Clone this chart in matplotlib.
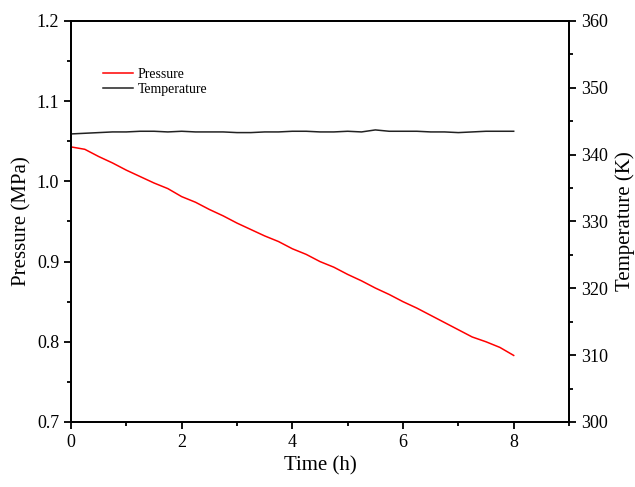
import matplotlib
matplotlib.use("Agg")
import matplotlib.pyplot as plt
from matplotlib.ticker import MultipleLocator

plt.rcParams['font.family'] = ['Liberation Serif', 'DejaVu Serif']

time_h = [0.0, 0.25, 0.5, 0.75, 1.0, 1.25, 1.5, 1.75, 2.0, 2.25, 2.5, 2.75, 3.0, 3.25, 3.5, 3.75,
          4.0, 4.25, 4.5, 4.75, 5.0, 5.25, 5.5, 5.75, 6.0, 6.25, 6.5, 6.75, 7.0, 7.25, 7.5, 7.75, 8.0]
pressure_mpa = [1.043, 1.040, 1.031, 1.023, 1.014, 1.006, 0.998, 0.991, 0.981, 0.974, 0.965, 0.957,
                0.948, 0.940, 0.932, 0.925, 0.916, 0.909, 0.900, 0.893, 0.884, 0.876, 0.867, 0.859,
                0.850, 0.842, 0.833, 0.824, 0.815, 0.806, 0.800, 0.793, 0.783]
temperature_k = [343.1, 343.2, 343.3, 343.4, 343.4, 343.5, 343.5, 343.4, 343.5, 343.4, 343.4, 343.4,
                 343.3, 343.3, 343.4, 343.4, 343.5, 343.5, 343.4, 343.4, 343.5, 343.4, 343.7, 343.5,
                 343.5, 343.5, 343.4, 343.4, 343.3, 343.4, 343.5, 343.5, 343.5]

fig = plt.figure(figsize=(6.35, 4.87), dpi=100)
ax = fig.add_axes([0.1118, 0.1335, 0.7843, 0.8234])
ax2 = ax.twinx()

l1, = ax.plot(time_h, pressure_mpa, color='#ff0000', lw=1.1, label='Pressure')
l2, = ax2.plot(time_h, temperature_k, color='#222222', lw=1.1, label='Temperature')

ax.set_xlim(0, 9)
ax.set_ylim(0.7, 1.2)
ax2.set_ylim(300, 360)
ax.xaxis.set_major_locator(MultipleLocator(2))
ax.xaxis.set_minor_locator(MultipleLocator(1))
ax.yaxis.set_major_locator(MultipleLocator(0.1))
ax.yaxis.set_minor_locator(MultipleLocator(0.05))
ax2.yaxis.set_major_locator(MultipleLocator(10))
ax2.yaxis.set_minor_locator(MultipleLocator(5))
ax.yaxis.set_major_formatter(matplotlib.ticker.FormatStrFormatter('%.1f'))

for a in (ax, ax2):
    for s in a.spines.values():
        s.set_linewidth(1.3)
    a.tick_params(which='major', length=5, width=1.3, labelsize=13, direction='out')
    a.tick_params(which='minor', length=3, width=1.3, direction='out')

ax.set_xlabel('Time (h)', fontsize=15)
ax.set_ylabel('Pressure (MPa)', fontsize=15)
ax2.set_ylabel('Temperature (K)', fontsize=15, labelpad=5)

ax.legend([l1, l2], ['Pressure', 'Temperature'], loc='upper left', bbox_to_anchor=(0.04, 0.915),
          frameon=False, fontsize=10, handlelength=2.15, handletextpad=0.3, labelspacing=0.2)

fig.savefig('out.png', dpi=100)
